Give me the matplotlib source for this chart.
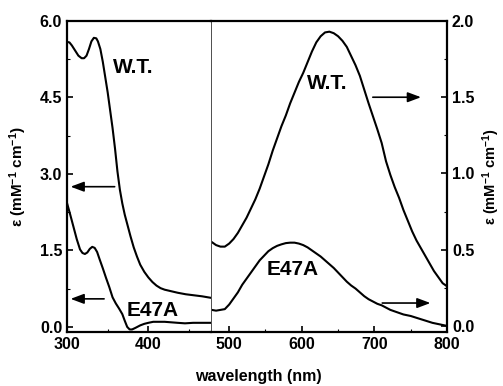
import numpy as np
import matplotlib
matplotlib.use("Agg")
import matplotlib.pyplot as plt
from matplotlib.ticker import MultipleLocator, FormatStrFormatter

plt.rcParams['font.family'] = ['Liberation Sans', 'DejaVu Sans']
plt.rcParams['font.weight'] = 'bold'
plt.rcParams['mathtext.fontset'] = 'custom'
plt.rcParams['mathtext.rm'] = 'Liberation Sans:bold'
plt.rcParams['mathtext.bf'] = 'Liberation Sans:bold'
plt.rcParams['mathtext.default'] = 'rm'

# --- UV region (left axis, 0-6 mM-1 cm-1) ---
uv_wl = [300, 303, 306, 310, 314, 318, 321, 324, 327, 330, 333, 336, 338, 341,
         344, 347, 350, 353, 356, 359, 362, 365, 368, 371, 374, 378, 382, 386,
         390, 395, 400, 405, 410, 415, 420, 428, 436, 446, 456, 466, 477]
uv_wt = [5.59, 5.58, 5.52, 5.42, 5.32, 5.27, 5.27, 5.32, 5.45, 5.6, 5.67,
         5.66, 5.6, 5.45, 5.2, 4.9, 4.6, 4.25, 3.9, 3.5, 3.05, 2.69, 2.42,
         2.2, 2.02, 1.78, 1.56, 1.38, 1.22, 1.08, 0.97, 0.88, 0.81, 0.76,
         0.73, 0.7, 0.67, 0.64, 0.62, 0.6, 0.57]

uv_wl_mut = [300, 304, 308, 312, 316, 319, 322, 325, 328, 331, 334, 337, 340,
             344, 348, 352, 356, 360, 364, 368, 371, 374, 377, 380, 384, 390,
             395, 400, 406, 412, 420, 428, 436, 445, 455, 465, 477]
uv_mut = [2.43, 2.2, 1.96, 1.72, 1.52, 1.45, 1.43, 1.46, 1.53, 1.57, 1.55,
          1.47, 1.33, 1.15, 0.96, 0.78, 0.58, 0.46, 0.36, 0.25, 0.12, 0.0,
          -0.05, -0.05, -0.02, 0.03, 0.06, 0.08, 0.1, 0.1, 0.1, 0.09, 0.08,
          0.07, 0.08, 0.08, 0.08]

# --- visible region (right axis, 0-2 mM-1 cm-1) ---
vis_wl = [476, 482, 488, 494, 500, 506, 512, 518, 524, 530, 536, 542, 548,
          554, 560, 566, 572, 578, 584, 590, 596, 602, 608, 614, 620, 626,
          632, 638, 644, 650, 656, 662, 668, 674, 680, 686, 692, 698, 704,
          710, 716, 722, 728, 734, 740, 746, 752, 758, 764, 770, 776, 782,
          788, 794, 800]
vis_wt = [0.55, 0.53, 0.52, 0.52, 0.54, 0.57, 0.61, 0.66, 0.71, 0.77, 0.83,
          0.90, 0.98, 1.06, 1.15, 1.23, 1.31, 1.38, 1.46, 1.53, 1.60, 1.66,
          1.73, 1.80, 1.86, 1.90, 1.925, 1.93, 1.92, 1.90, 1.87, 1.83, 1.77,
          1.71, 1.64, 1.55, 1.46, 1.375, 1.29, 1.20, 1.08, 0.99, 0.91, 0.84,
          0.76, 0.69, 0.62, 0.56, 0.51, 0.46, 0.41, 0.36, 0.32, 0.28, 0.26]

vis_wl_mut = [476, 482, 488, 494, 500, 506, 512, 518, 524, 530, 536, 542, 548,
              554, 560, 566, 572, 578, 584, 590, 596, 602, 608, 614, 620, 626,
              632, 638, 644, 650, 656, 662, 668, 674, 680, 686, 692, 698, 704,
              710, 716, 722, 731, 740, 750, 760, 770, 780, 790, 800]
vis_mut = [0.105, 0.10, 0.105, 0.11, 0.14, 0.18, 0.22, 0.27, 0.31, 0.35, 0.39,
           0.43, 0.46, 0.49, 0.51, 0.525, 0.535, 0.543, 0.546, 0.546, 0.54,
           0.53, 0.515, 0.495, 0.475, 0.455, 0.43, 0.405, 0.38, 0.35, 0.32,
           0.29, 0.265, 0.245, 0.22, 0.195, 0.175, 0.16, 0.145, 0.135, 0.12,
           0.105, 0.09, 0.075, 0.065, 0.05, 0.035, 0.02, 0.01, 0.0]

fig = plt.figure(figsize=(5.03, 3.86), dpi=100)
ax1 = fig.add_axes([0.1332, 0.1399, 0.2863, 0.8057])
ax2 = fig.add_axes([0.4195, 0.1399, 0.4692, 0.8057])

lw = 1.5
ax1.plot(uv_wl, uv_wt, color='black', lw=lw)
ax1.plot(uv_wl_mut, uv_mut, color='black', lw=lw)
ax2.plot(vis_wl, vis_wt, color='black', lw=lw)
ax2.plot(vis_wl_mut, vis_mut, color='black', lw=lw)

ax1.set_xlim(300, 477)
ax1.set_ylim(-0.1, 6.0)
ax2.set_xlim(475, 800)
ax2.set_ylim(-0.04, 2.0)

for ax in (ax1, ax2):
    for s in ax.spines.values():
        s.set_linewidth(1.6)
    ax.tick_params(direction='in', length=4, width=1.2, labelsize=11.5)
    ax.tick_params(which='minor', direction='in', length=2.5, width=0.8)
    ax.xaxis.set_minor_locator(MultipleLocator(50))
    ax.yaxis.set_major_formatter(FormatStrFormatter('%.1f'))

ax1.spines['right'].set_visible(False)
ax2.spines['left'].set_linewidth(0.7)
ax2.spines['left'].set_color('0.3')

ax1.xaxis.set_major_locator(MultipleLocator(100))
ax1.yaxis.set_major_locator(MultipleLocator(1.5))
ax1.yaxis.set_minor_locator(MultipleLocator(0.75))
ax2.xaxis.set_major_locator(MultipleLocator(100))
ax2.yaxis.set_major_locator(MultipleLocator(0.5))
ax2.yaxis.set_minor_locator(MultipleLocator(0.25))
ax2.yaxis.tick_right()
ax2.yaxis.set_label_position('right')
ax2.tick_params(axis='y', which='both', left=False, right=True)

ylab = r'ε (mM$^{-1}$ cm$^{-1}$)'
ax1.set_ylabel(ylab, fontsize=11, fontweight='bold')
ax2.set_ylabel(ylab, fontsize=10.5, fontweight='bold', rotation=90)
ax1.yaxis.set_label_coords(-0.265, 0.5)
ax2.yaxis.set_label_coords(1.14, 0.5)
fig.text(0.513, 0.024, 'wavelength (nm)', ha='center', va='center',
         fontsize=11.5, fontweight='bold')

# labels
ax1.text(356, 5.08, 'W.T.', fontsize=15, fontweight='bold', va='center')
ax1.text(373, 0.33, 'E47A', fontsize=15, fontweight='bold', va='center')
ax2.text(607, 1.59, 'W.T.', fontsize=15, fontweight='bold', va='center')
ax2.text(551, 0.37, 'E47A', fontsize=15, fontweight='bold', va='center')

# arrows pointing to the axis each curve uses
arr = dict(arrowstyle='-|>,head_length=0.8,head_width=0.3', color='black',
           lw=1.2)
ax1.annotate('', xy=(301, 2.75), xytext=(362, 2.75), arrowprops=arr)
ax1.annotate('', xy=(301, 0.55), xytext=(349, 0.55), arrowprops=arr)
ax2.annotate('', xy=(768, 1.5), xytext=(694, 1.5), arrowprops=arr)
ax2.annotate('', xy=(781, 0.15), xytext=(707, 0.15), arrowprops=arr)

fig.savefig('out.png', dpi=100)
